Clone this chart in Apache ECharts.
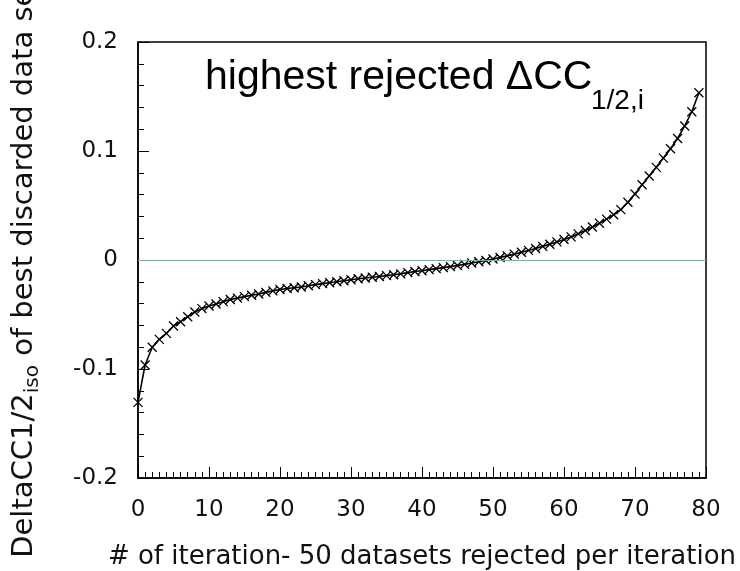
<!DOCTYPE html>
<html>
<head>
<meta charset="utf-8">
<script src="https://cdn.jsdelivr.net/npm/echarts@6/dist/echarts.min.js"></script>
<style>
  html, body { margin: 0; padding: 0; background: #fff; }
  #chart { width: 740px; height: 571px; }
</style>
</head>
<body>
<div id="chart"></div>
<script>
// iteration index (x) and highest rejected DeltaCC1/2 value (y)
const iterations = [
  0, 1, 2, 3, 4, 5, 6, 7, 8, 9, 10, 11, 12, 13, 14, 15, 16, 17, 18, 19,
  20, 21, 22, 23, 24, 25, 26, 27, 28, 29, 30, 31, 32, 33, 34, 35, 36, 37, 38, 39,
  40, 41, 42, 43, 44, 45, 46, 47, 48, 49, 50, 51, 52, 53, 54, 55, 56, 57, 58, 59,
  60, 61, 62, 63, 64, 65, 66, 67, 68, 69, 70, 71, 72, 73, 74, 75, 76, 77, 78, 79
];
const deltaCC = [
  -0.1306, -0.0963, -0.0800, -0.0728, -0.0673, -0.0606, -0.0566, -0.0520, -0.0477, -0.0446,
  -0.0422, -0.0404, -0.0382, -0.0362, -0.0350, -0.0336, -0.0324, -0.0312, -0.0297, -0.0283,
  -0.0270, -0.0261, -0.0254, -0.0247, -0.0236, -0.0226, -0.0217, -0.0208, -0.0199, -0.0190,
  -0.0181, -0.0172, -0.0165, -0.0158, -0.0151, -0.0143, -0.0136, -0.0127, -0.0116, -0.0106,
  -0.0098, -0.0088, -0.0079, -0.0070, -0.0061, -0.0051, -0.0040, -0.0028, -0.0016, -0.0004,
  0.0009, 0.0023, 0.0038, 0.0054, 0.0071, 0.0088, 0.0106, 0.0125, 0.0145, 0.0166,
  0.0188, 0.0212, 0.0240, 0.0270, 0.0302, 0.0337, 0.0375, 0.0415, 0.0462, 0.0530,
  0.0605, 0.0690, 0.0770, 0.0850, 0.0935, 0.1020, 0.1115, 0.1230, 0.1360, 0.1535
];
const xTicks = { min: 0, max: 80, interval: 10 };
const yTicks = { min: -0.2, max: 0.2, interval: 0.1 };

const titleMain = "highest rejected ΔCC";
const titleSub = "1/2,i";
const xName = "# of iteration- 50 datasets rejected per iteration";

const chart = echarts.init(document.getElementById("chart"));

const points = iterations.map((x, i) => [x, deltaCC[i]]);

const axisFont = "DejaVu Sans";

chart.setOption({
  animation: false,
  backgroundColor: "#fff",
  grid: {
    left: 138,
    right: 34,
    top: 42,
    bottom: 93,
    outerBoundsMode: "none",
    show: true,
    borderColor: "#000",
    borderWidth: 1.5,
  },
  graphic: [
    {
      type: "text",
      left: 205,
      top: 57,
      style: {
        text: titleMain,
        font: "41px 'Liberation Sans'",
        fill: "#000",
      },
    },
    {
      type: "text",
      left: 591,
      top: 87,
      style: {
        text: titleSub,
        font: "28px 'Liberation Sans'",
        fill: "#000",
      },
    },
  ],
  xAxis: {
    type: "value",
    min: xTicks.min,
    max: xTicks.max,
    interval: xTicks.interval,
    name: xName,
    nameLocation: "middle",
    nameGap: 66,
    nameTextStyle: { fontFamily: axisFont, fontSize: 26, color: "#111" },
    axisLine: { show: true, onZero: false, lineStyle: { color: "#000", width: 1.5 } },
    axisTick: { show: true, inside: true, length: 11, lineStyle: { color: "#000" } },
    minorTick: { show: true, splitNumber: 10, length: 6, lineStyle: { color: "#000" } },
    splitLine: { show: false },
    axisLabel: { fontFamily: axisFont, fontSize: 23, color: "#111", margin: 21 },
  },
  yAxis: {
    type: "value",
    min: yTicks.min,
    max: yTicks.max,
    interval: yTicks.interval,
    name: "{a|DeltaCC1/2}{s|iso}{a| of best discarded data sets}",
    nameLocation: "middle",
    nameGap: 95,
    nameTextStyle: {
      rich: {
        a: { fontFamily: axisFont, fontSize: 29, color: "#111", lineHeight: 37, verticalAlign: "middle" },
        s: { fontFamily: axisFont, fontSize: 20, color: "#111", verticalAlign: "bottom" },
      },
    },
    axisLine: { show: true, onZero: false, lineStyle: { color: "#000", width: 1.5 } },
    axisTick: { show: true, inside: true, length: 11, lineStyle: { color: "#000" } },
    minorTick: { show: true, splitNumber: 5, length: 6, lineStyle: { color: "#000" } },
    splitLine: { show: false },
    axisLabel: { fontFamily: axisFont, fontSize: 23, color: "#111", margin: 20 },
  },
  series: [
    {
      type: "line",
      data: points,
      symbol: "path://M0,0L10,10M10,0L0,10",
      symbolSize: 9,
      showSymbol: true,
      lineStyle: { color: "#000", width: 1.6 },
      itemStyle: { color: "rgba(0,0,0,0)", borderColor: "#000", borderWidth: 1.3 },
      markLine: {
        silent: true,
        symbol: "none",
        label: { show: false },
        lineStyle: { color: "#5fbfad", width: 1, type: "solid" },
        data: [{ yAxis: 0 }],
      },
      z: 3,
    },
  ],
});
</script>
</body>
</html>
